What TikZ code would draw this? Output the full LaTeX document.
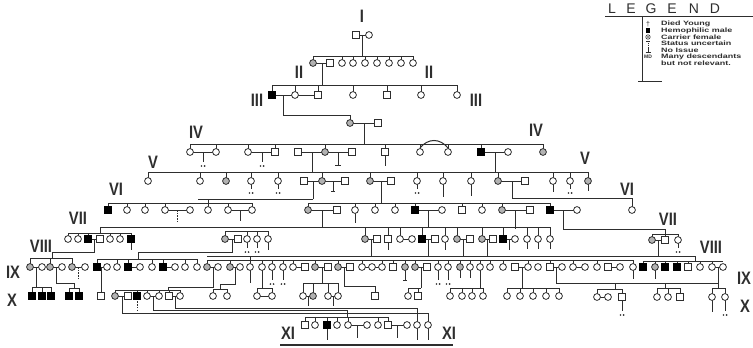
\documentclass[tikz,border=0pt]{standalone}
\usepackage{fontspec}
\usepackage{graphicx}
\setmainfont{Liberation Sans}
\definecolor{lc}{HTML}{2E2E2E}
\tikzset{
  ln/.style={draw=lc, line width=1pt},
  dsh/.style={draw=lc, line width=1pt, dash pattern=on 1.5pt off 1.2pt},
  pers/.style={draw=lc, line width=0.8pt, fill=white, inner sep=0pt},
  fem/.style={pers, circle, minimum size=6.8pt},
  mal/.style={pers, rectangle, minimum size=6.4pt},
  hem/.style={pers, rectangle, minimum size=6.4pt, fill=black, draw=black},
  car/.style={pers, circle, minimum size=6.8pt, fill=gray!60},
  genlbl/.style={font=\fontsize{18}{18}\selectfont\bfseries, text=lc, inner sep=0pt},
  legtxt/.style={font=\fontsize{6.3}{6.3}\selectfont\bfseries, anchor=west, inner sep=0pt, text=lc},
  legttl/.style={font=\fontsize{14}{14}\selectfont, text=lc, inner sep=0pt},
}
\newcommand\GL[1]{\scalebox{0.82}[1]{#1}}
\newcommand\LT[1]{\scalebox{1.42}[1]{#1}}
\newcommand\PF[2]{\foreach \x in {#2}{\node[fem] (n\x-#1) at (\x,#1) {};}}
\newcommand\PM[2]{\foreach \x in {#2}{\node[mal] (n\x-#1) at (\x,#1) {};}}
\newcommand\PH[2]{\foreach \x in {#2}{\node[hem] (n\x-#1) at (\x,#1) {};}}
\newcommand\PC[2]{\foreach \x in {#2}{\node[car] (n\x-#1) at (\x,#1) {};}}
\newcommand\SIB[5]{\draw[ln] (#3,#1) -- (#4,#1); \foreach \x in {#5}{\draw[ln] (\x,#1) -- (\x,#2);}}
\newcommand\MDd[2]{\fill[lc] (#1-1.6,#2) circle (0.9pt) (#1+1.6,#2) circle (0.9pt);}
\newcommand\VL[3]{\draw[ln] (#1,#2) -- (#1,#3);}
\begin{document}
\begin{tikzpicture}[x=1pt,y=-1pt]
\useasboundingbox (0,0) rectangle (753,348);
\fill[white] (0,0) rectangle (753,348);

% ---------------- lines ----------------
% I
\draw[ln] (356,35) -- (369,35); \VL{362}{35}{56}
% II
\SIB{56}{63}{313}{413}{313,342,353,365,377,389,401,413}
\draw[ln] (313,63) -- (330,63); \VL{322}{63}{85}
% III
\SIB{85}{95}{272}{457}{272,295,318,353,387,421,457}
\draw[ln] (272,95) -- (318,95);
\draw[ln] (283,95) -- (283,115) -- (350,115) -- (350,123);
\draw[ln] (350,123) -- (378,123); \VL{364}{123}{144}
% IV
\SIB{144}{152}{190}{543}{190,216,248,275,325,385,420,448,481,543}
\draw[ln] (190,152) -- (216,152); \VL{203}{152}{162} \MDd{203}{166}
\draw[ln] (248,152) -- (275,152); \VL{262}{152}{162} \MDd{262}{166}
\draw[ln] (298,152) -- (352,152); \VL{312}{152}{172}
\draw[ln] (338,152) -- (338,165) (335,165) -- (341,165);
\VL{385}{152}{166}
\draw[ln] (420,148) .. controls (428,138) and (440,138) .. (448,148);
\draw[ln] (481,152) -- (508,152); \VL{495}{152}{172}
% V
\SIB{172}{181}{148}{588}{148,200,226,251,278,322,370,417,443,471,498,553,570,588}
\draw[ln] (304,181) -- (345,181); \VL{313}{181}{199}
\draw[ln] (333,181) -- (333,191) (331,191) -- (335,191);
\draw[ln] (370,181) -- (391,181); \VL{381}{181}{203}
\draw[ln] (498,181) -- (525,181);
\draw[ln] (512,181) -- (512,198) -- (632,198) -- (632,210);
\VL{251}{181}{189} \MDd{251}{193}
\VL{278}{181}{189} \MDd{278}{193}
\VL{417}{181}{189} \MDd{417}{193}
\VL{443}{181}{197} \VL{471}{181}{196}
\VL{553}{181}{192} \VL{570}{181}{189} \MDd{570}{193} \VL{588}{181}{191}
% VI
\SIB{203}{210}{108}{252}{108,127,145,165,228,252}
\SIB{199}{210}{198}{313}{208}
\SIB{203}{210}{308}{550}{308,355,375,395,415,462,482,502,550}
\draw[ln] (165,210) -- (190,210); \draw[dsh] (177,210) -- (177,221);
\draw[ln] (228,210) -- (252,210); \VL{240}{210}{221}
\draw[ln] (308,210) -- (337,210); \VL{322}{210}{227}
\VL{355}{210}{223}
\draw[ln] (415,210) -- (442,210); \VL{428}{210}{227}
\draw[ln] (502,210) -- (530,210); \VL{515}{210}{229}
\draw[ln] (550,210) -- (577,210);
\draw[ln] (563,210) -- (563,229) -- (665,229) -- (665,240);
% VII
\draw[ln] (100,227) -- (550,227);
\SIB{233}{239}{68}{131}{68,78,88,110,120,131} \VL{100}{227}{233}
\SIB{231}{239}{225}{268}{225,247,257,268}
\SIB{227}{239}{365}{550}{365,388,400,422,445,457,482,503,527,538,550}
\SIB{234}{240}{652}{678}{652,678}
\draw[ln] (88,239) -- (100,239);
\draw[ln] (94,239) -- (94,252) -- (52,252) -- (52,258);
\VL{131}{239}{250}
\draw[ln] (225,239) -- (238,239);
\draw[ln] (232,239) -- (232,252) -- (138,252) -- (138,259);
\VL{247}{239}{248} \MDd{247}{252} \VL{257}{239}{248} \MDd{257}{252} \VL{268}{239}{250}
\draw[ln] (365,239) -- (377,239); \VL{371}{239}{256}
\VL{388}{239}{250}
\draw[ln] (400,239) -- (412,239);
\draw[ln] (422,239) -- (435,239); \VL{428}{239}{256}
\VL{445}{239}{250}
\draw[ln] (457,239) -- (470,239); \VL{463}{239}{256}
\draw[ln] (482,239) -- (493,239); \VL{487}{239}{256}
\draw[ln] (503,239) -- (515,239); \VL{509}{239}{250}
\VL{527}{239}{249} \VL{538}{239}{249} \VL{550}{239}{249}
\draw[ln] (652,240) -- (665,240);
\draw[ln] (658,240) -- (658,256) -- (695,256) -- (695,261);
\VL{678}{240}{248} \MDd{678}{252}
% IX
\SIB{258}{267}{30}{72}{30,50,72}
\SIB{259}{267}{97}{197}{97,117,128,152,163,185,197}
\draw[ln] (207,256) -- (658,256);
\SIB{260}{267}{207}{633}{207,230,250,262,272,283,293,315,338,362,382,393,405,415,438,448,460,470,480,490,503,528,550,573,597,633}
\VL{250}{256}{260}
\SIB{261}{267}{643}{723}{643,655,665,677,688,700,712}
\foreach \a/\b in {30/42,50/62,72/85,97/107,128/140,163/175,207/218,230/240,293/305,315/328,338/350,362/382,415/427,515/528,550/562,573/585,608/620,712/723}{\draw[ln] (\a,267) -- (\b,267);}
% IX -> X
\VL{36}{267}{287} \SIB{287}{296}{32}{51}{32,42,51}
\draw[ln] (56,267) -- (56,283) -- (74,283) -- (74,288); \SIB{288}{296}{69}{79}{69,79}
\draw[dsh] (78,267) -- (78,278);
\VL{101}{267}{292}
\draw[ln] (213,267) -- (213,287) -- (168,287) -- (168,290);
\SIB{290}{296}{115}{180}{115,137,147,159,169,180}
\draw[ln] (235,267) -- (235,284) -- (220,284) -- (220,289); \SIB{289}{296}{213}{227}{213,227}
\VL{250}{267}{283}
\VL{262}{267}{288} \SIB{288}{296}{257}{272}{257,272}
\VL{272}{267}{280} \MDd{272}{284} \VL{283}{267}{280} \MDd{283}{284}
\VL{322}{267}{283} \SIB{283}{296}{303}{338}{303,313,328,338}
\draw[ln] (344,267) -- (344,286) -- (375,286) -- (375,292);
\draw[ln] (405,267) -- (405,280) (403,280) -- (407,280);
\draw[ln] (421,267) -- (421,288); \SIB{288}{296}{408}{421}{408,418}
\VL{438}{267}{280} \MDd{438}{284} \VL{448}{267}{280} \MDd{448}{284}
\VL{460}{267}{278} \VL{470}{267}{278}
\VL{480}{267}{288} \SIB{288}{296}{450}{483}{450,462,472,483}
\VL{522}{267}{288} \SIB{288}{296}{507}{559}{507,520,533,546,559}
\VL{556}{267}{283} \draw[ln] (556,283) -- (718,283);
\VL{633}{267}{279} \VL{655}{267}{279}
\VL{615}{283}{289} \SIB{289}{297}{597}{622}{597,622}
\VL{665}{283}{288} \SIB{288}{297}{657}{680}{657,668,680}
\VL{718}{267}{288} \SIB{288}{297}{712}{725}{712,725}
% X
\draw[ln] (303,296) -- (313,296); \VL{308}{296}{306}
\draw[ln] (328,296) -- (338,296); \VL{333}{296}{306}
\draw[ln] (115,296) -- (128,296);
\draw[ln] (147,296) -- (159,296);
\draw[ln] (169,296) -- (180,296);
\draw[dsh] (137,296) -- (137,312);
\draw[ln] (122,296) -- (122,313) -- (428,313) -- (428,325);
\draw[ln] (153,296) -- (153,310.5) -- (347,310.5) -- (347,317);
\draw[ln] (175,296) -- (175,308) -- (417,308) -- (417,325);
\draw[ln] (257,296) -- (272,296);
\draw[ln] (597,297) -- (608,297);
\VL{622}{297}{311} \MDd{622}{315}
\VL{712}{297}{312} \VL{725}{297}{311} \MDd{725}{315}
% XI
\SIB{317}{325}{305}{388}{305,315,327,337,348,378,388}
\draw[ln] (348,325) -- (367,325); \VL{357}{325}{338}
\draw[ln] (388,325) -- (407,325); \VL{397}{325}{338}
\VL{327}{325}{340} \VL{417}{325}{340} \VL{428}{325}{340}
\draw[draw=lc, line width=2pt] (280,344.5) -- (453,344.5);

% ---------------- persons ----------------
\PM{35}{356} \PF{35}{369}
\PC{63}{313} \PM{63}{330} \PF{63}{342,353,365,377,389,401,413}
\PH{95}{272} \PF{95}{295,353,421,457} \PM{95}{318,387}
\PC{123}{350} \PM{123}{378}
\PF{152}{190,216,248,420,448,508} \PM{152}{275,298,352,385} \PC{152}{325,543} \PH{152}{481}
\PF{181}{148,200,251,278,417,443,471,553,570} \PC{181}{226,322,370,498,588} \PM{181}{304,345,391,525}
\PH{210}{108,415,550} \PF{210}{127,145,165,190,208,228,252,355,375,395,442,482,577,632} \PC{210}{308,502} \PM{210}{337,462,530}
\PF{239}{68,78,110,120,247,257,268,400,412,445,515,527,538,550} \PH{239}{88,131,422,503} \PM{239}{100,238,377,388,435,470,493} \PC{239}{225,365,457,482}
\PC{240}{652} \PM{240}{665} \PF{240}{678}
\PC{267}{30,50,72,207,230,315,338,405,415,460,655}
\PH{267}{97,128,163,643,665,677}
\PM{267}{305,328,350,393,427,515,550,608,688}
\PF{267}{42,62,85,107,117,140,152,175,185,197,218,240,250,262,272,283,293,362,372,382,438,448,470,480,490,503,528,538,562,573,585,597,620,633,700,712,723}
\PH{296}{32,42,51,69,79,137}
\PM{296}{101,128,375,418,169}
\PC{296}{115,313}
\PF{296}{147,159,180,213,227,257,272,303,328,338,408,450,462,472,483,507,520,533,546,559}
\PF{297}{597,608,657,668,712,725} \PM{297}{622,680}
\PM{325}{305,388} \PF{325}{315,337,348,367,378,407,417,428} \PH{325}{327}

% ---------------- generation labels ----------------
\node[genlbl] (gI) at (362,16) {\GL{I}};
\node[genlbl] (gIIa) at (299,72) {\GL{II}};
\node[genlbl] (gIIb) at (429,72) {\GL{II}};
\node[genlbl] (gIIIa) at (257,100) {\GL{III}};
\node[genlbl] (gIIIb) at (476,100) {\GL{III}};
\node[genlbl] (gIVa) at (196,132) {\GL{IV}};
\node[genlbl] (gIVb) at (536,130) {\GL{IV}};
\node[genlbl] (gVa) at (153,162) {\GL{V}};
\node[genlbl] (gVb) at (585,158) {\GL{V}};
\node[genlbl] (gVIa) at (116,189) {\GL{VI}};
\node[genlbl] (gVIb) at (627,189) {\GL{VI}};
\node[genlbl] (gVIIa) at (78,218) {\GL{VII}};
\node[genlbl] (gVIIb) at (668,219) {\GL{VII}};
\node[genlbl] (gVIIIa) at (41,246) {\GL{VIII}};
\node[genlbl] (gVIIIb) at (711,247) {\GL{VIII}};
\node[genlbl] (gIXa) at (13,272) {\GL{IX}};
\node[genlbl] (gIXb) at (744,278) {\GL{IX}};
\node[genlbl] (gXa) at (12,300) {\GL{X}};
\node[genlbl] (gXb) at (745,306) {\GL{X}};
\node[genlbl] (gXIa) at (288,333) {\GL{XI}};
\node[genlbl] (gXIb) at (449,333) {\GL{XI}};

% ---------------- legend ----------------
\foreach \c/\xx [count=\i] in {L/612,E/631,G/651,E/672,N/694,D/715}{\node[legttl] (lg\i) at (\xx,8.5) {\c};}
\draw[draw=lc, line width=1.3pt] (605,16.5) -- (753,16.5);
\draw[ln] (642,16.5) -- (642,81);
\draw[ln] (638,81) -- (662,81);
\node[font=\fontsize{7}{7}\selectfont, inner sep=0pt, text=lc] (s1) at (648,24) {†};
\fill[black] (645.8,28.3) rectangle (650.2,32.7);
\draw[draw=lc, line width=0.6pt] (648,37) circle (2.2pt); \fill[lc] (648,37) circle (0.8pt);
\draw[draw=lc, line width=0.6pt] (646,41) -- (650,41);
\draw[draw=lc, line width=0.6pt, dash pattern=on 1pt off 0.8pt] (648,41) -- (648,46);
\draw[draw=lc, line width=0.6pt] (648,47) -- (648,52) (645.5,52) -- (650.5,52);
\node[font=\fontsize{5}{5}\selectfont\bfseries, inner sep=0pt, text=lc] (s6) at (648,57) {MD};
\node[legtxt] (t1) at (661,24) {\LT{Died Young}};
\node[legtxt] (t2) at (661,30.5) {\LT{Hemophilic male}};
\node[legtxt] (t3) at (661,37) {\LT{Carrier female}};
\node[legtxt] (t4) at (661,43.5) {\LT{Status uncertain}};
\node[legtxt] (t5) at (661,50) {\LT{No Issue}};
\node[legtxt] (t6) at (661,57) {\LT{Many descendants}};
\node[legtxt] (t7) at (661,63.5) {\LT{but not relevant.}};
\end{tikzpicture}
\end{document}
